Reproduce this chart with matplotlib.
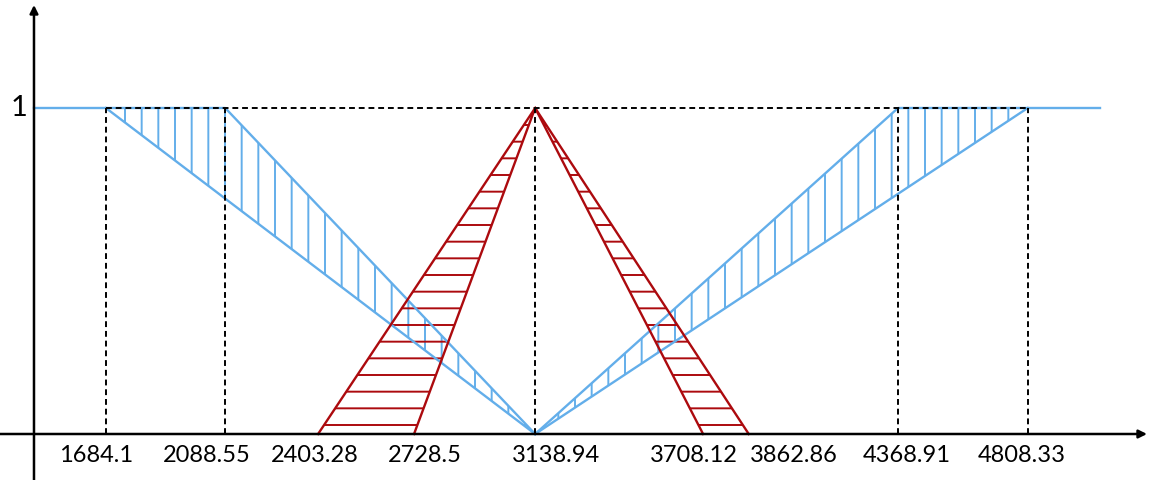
import numpy as np
import matplotlib
matplotlib.use("Agg")
import matplotlib.pyplot as plt
from matplotlib.patches import Polygon
from matplotlib.transforms import offset_copy

# ---- data ----
tick_values = [1684.1, 2088.55, 2403.28, 2728.5, 3138.94, 3708.12, 3862.86, 4368.91, 4808.33]
tick_labels = ["1684.1", "2088.55", "2403.28", "2728.5", "3138.94", "3708.12", "3862.86", "4368.91", "4808.33"]
# blue (left) membership: upper and lower boundaries
blue_left_x = [1684.1, 2088.55, 3138.94]
blue_left_upper = [1, 1, 0]
blue_left_lower_x = [1684.1, 3138.94]
blue_left_lower_y = [1, 0]
# blue (right)
blue_right_x = [3138.94, 4368.91, 4808.33]
blue_right_upper = [0, 1, 1]
blue_right_lower_x = [3138.94, 4808.33]
blue_right_lower_y = [0, 1]
# red triangles
red_left_x = [2403.28, 3138.94, 2728.5]
red_left_y = [0, 1, 0]
red_right_x = [3138.94, 3708.12, 3862.86]
red_right_y = [1, 0, 0]
# dashed guides
guide_x = [1684.1, 2088.55, 3138.94, 4368.91, 4808.33]
top_level = 1

# ---- style / layout ----
BLUE = "#63AEEA"
RED = "#AC0A0E"
plt.rcParams['hatch.linewidth'] = 1.4
plt.rcParams['font.family'] = ['Lato', 'DejaVu Sans']

fig = plt.figure(figsize=(11.55, 4.8), dpi=100)
ax = fig.add_axes([0, 0, 1, 1])
ax.set_xlim(1325.2, 5239.8)
ax.set_ylim(-0.1411, 1.3313)
ax.axis('off')

y_axis_x = 1440.4
x_axis_end = 5212.7
x_axis_start = 1325.2
blue_flat_end = 5053.4

# axes with arrows
ax.annotate("", xy=(x_axis_end, 0), xytext=(x_axis_start, 0),
            arrowprops=dict(arrowstyle='-|>', lw=1.8, color='black', mutation_scale=12,
                            shrinkA=0, shrinkB=0), zorder=5)
ax.annotate("", xy=(y_axis_x, 1.316), xytext=(y_axis_x, -0.1411),
            arrowprops=dict(arrowstyle='-|>', lw=1.8, color='black', mutation_scale=12,
                            shrinkA=0, shrinkB=0), zorder=5)

# blue left region
xl = np.array(blue_left_x)
up_l = np.array(blue_left_upper, dtype=float)
lo_l = np.interp(xl, blue_left_lower_x, blue_left_lower_y)
ax.fill_between(xl, lo_l, up_l, facecolor='none', edgecolor=BLUE, hatch='|', linewidth=0, zorder=2)
ax.plot([y_axis_x] + blue_left_x, [top_level] + blue_left_upper, color=BLUE, lw=1.7, zorder=3)
ax.plot(blue_left_lower_x, blue_left_lower_y, color=BLUE, lw=1.7, zorder=3)

# blue right region
xr = np.array(blue_right_x)
up_r = np.array(blue_right_upper, dtype=float)
lo_r = np.interp(xr, blue_right_lower_x, blue_right_lower_y)
ax.fill_between(xr, lo_r, up_r, facecolor='none', edgecolor=BLUE, hatch='|', linewidth=0, zorder=2)
ax.plot(blue_right_x + [blue_flat_end], blue_right_upper + [top_level], color=BLUE, lw=1.7, zorder=3)
ax.plot(blue_right_lower_x, blue_right_lower_y, color=BLUE, lw=1.7, zorder=3)

# red triangles
for xs, ys in [(red_left_x, red_left_y), (red_right_x, red_right_y)]:
    poly = Polygon(np.column_stack([xs, ys]), closed=True, facecolor='none',
                   edgecolor=RED, hatch='-', linewidth=0, zorder=2)
    ax.add_patch(poly)
ax.plot(red_left_x, red_left_y, color=RED, lw=1.7, zorder=3)
ax.plot(red_right_x[:2], red_right_y[:2], color=RED, lw=1.7, zorder=3)
ax.plot([red_right_x[0], red_right_x[2]], [red_right_y[0], red_right_y[2]], color=RED, lw=1.7, zorder=3)

# dashed guides
for gx in guide_x:
    ax.plot([gx, gx], [0, top_level], color='black', lw=1.4, ls=(0, (3, 2)), zorder=4)
ax.plot([guide_x[0], guide_x[-1]], [top_level, top_level], color='black', lw=1.4,
        ls=(0, (3, 2)), zorder=4)

# labels
label_dx = [-10, -18, -3, 11, 21, -9, 45, 9, -6]  # pixel nudges
for v, t, dx in zip(tick_values, tick_labels, label_dx):
    tr = offset_copy(ax.transData, fig=fig, x=dx * 0.72, y=0, units='points')
    ax.text(v, -0.066, t, transform=tr, ha='center', va='center', fontsize=17, color='black')
ax.text(1390, top_level, "1", ha='center', va='center', fontsize=21, color='black')

fig.savefig("out.png", dpi=100)
